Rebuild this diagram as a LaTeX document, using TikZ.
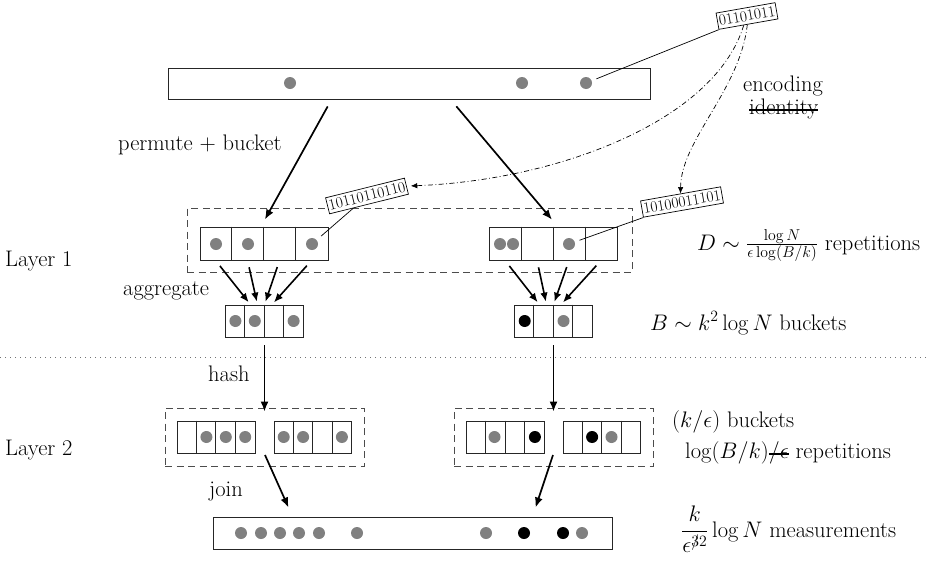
\RequirePackage{fix-cm}
\documentclass[tikz,border=0pt]{standalone}
\usepackage{amsmath}
\usetikzlibrary{arrows.meta,calc}
\newsavebox\strkbox
\newcommand\strk[1]{\sbox\strkbox{#1}\rlap{\usebox\strkbox}\rule[0.15em]{\wd\strkbox}{1.4pt}}
\newcommand\celldivs[3]{\foreach \i in {1,...,#2}{\draw[div] ($(#1.north west)+(\i*#3,0)$) -- ($(#1.south west)+(\i*#3,0)$);}}
\begin{document}
\begin{tikzpicture}[x=1pt,y=-1pt,
  cellbox/.style={draw=black!85,line width=0.9pt,inner sep=0pt},
  dashbox/.style={draw=black!70,line width=0.9pt,dash pattern=on 7pt off 4.5pt,inner sep=0pt},
  gdot/.style={circle,fill=black!50,inner sep=0pt,minimum size=12pt},
  bdot/.style={circle,fill=black,inner sep=0pt,minimum size=12pt},
  lbl/.style={inner sep=0pt,font=\fontsize{22.5}{27}\selectfont},
  code/.style={draw=black,line width=0.7pt,fill=white,inner xsep=1.5pt,inner ysep=3pt,font=\fontsize{15.5}{18}\selectfont},
  arr/.style={-{Latex[length=10pt,width=8pt]},line width=1.7pt},
  arrs/.style={-{Latex[length=9pt,width=7.5pt]},line width=1.6pt},
  dd/.style={-{Latex[length=6.5pt,width=5.5pt]},line width=0.7pt,dash pattern=on 5pt off 2.5pt on 0.8pt off 2.5pt},
  conn/.style={line width=0.7pt},
  div/.style={draw=black!85,line width=0.9pt}]
\path[fill=white] (0,0) rectangle (929,568);
\useasboundingbox (0,0) rectangle (929,568);

% separator
\coordinate (sepL) at (0,357);
\coordinate (sepR) at (929,357);
\draw[black!55,line width=0.8pt,dash pattern=on 0.8pt off 4.2pt] (sepL) -- (sepR);

% top bar
\node[cellbox,minimum width=482pt,minimum height=31pt] (T) at (409,83.5) {};
\node[gdot] (t1) at (290,83) {};
\node[gdot] (t2) at (522,83) {};
\node[gdot] (t3) at (586,83) {};

% layer 1
\node[dashbox,minimum width=445pt,minimum height=64pt] (D1) at (409.5,240) {};
\node[cellbox,minimum width=128pt,minimum height=33pt] (L1a) at (264,243.5) {};
\node[cellbox,minimum width=128pt,minimum height=33pt] (L1b) at (553.5,243.5) {};
\celldivs{L1a}{3}{32}
\celldivs{L1b}{3}{32}
\node[gdot] (a1) at (216,244) {};
\node[gdot] (a2) at (248,244) {};
\node[gdot] (dL1) at (312,244) {};
\node[gdot] (b1) at (500,244) {};
\node[gdot] (b2) at (513,244) {};
\node[gdot] (dR1) at (569,244) {};

% aggregates
\node[cellbox,minimum width=77.6pt,minimum height=32pt] (Ag1) at (264.5,321) {};
\node[cellbox,minimum width=77.6pt,minimum height=32pt] (Ag2) at (553.5,321) {};
\celldivs{Ag1}{3}{19.4}
\celldivs{Ag2}{3}{19.4}
\node[gdot] (g1) at (235.4,321) {};
\node[gdot] (g2) at (254.8,321) {};
\node[gdot] (g3) at (293.6,321) {};
\node[bdot] (h1) at (524.7,321) {};
\node[gdot] (h2) at (563.5,321) {};

% layer 2
\node[dashbox,minimum width=199pt,minimum height=58pt] (G1) at (264.5,437) {};
\node[dashbox,minimum width=199pt,minimum height=58pt] (G2) at (553.5,437) {};
\node[cellbox,minimum width=77.6pt,minimum height=32pt] (BA) at (216.2,437) {};
\node[cellbox,minimum width=77.6pt,minimum height=32pt] (BB) at (313,437) {};
\node[cellbox,minimum width=77.6pt,minimum height=32pt] (BC) at (505.5,437) {};
\node[cellbox,minimum width=77.6pt,minimum height=32pt] (BD) at (602,437) {};
\celldivs{BA}{3}{19.4}
\celldivs{BB}{3}{19.4}
\celldivs{BC}{3}{19.4}
\celldivs{BD}{3}{19.4}
\node[gdot] (p1) at (206.4,437) {};
\node[gdot] (p2) at (225.8,437) {};
\node[gdot] (p3) at (245.2,437) {};
\node[gdot] (q1) at (283.7,437) {};
\node[gdot] (q2) at (303.1,437) {};
\node[gdot] (q3) at (341.9,437) {};
\node[gdot] (r1) at (494.5,437) {};
\node[bdot] (r2) at (534.9,437) {};
\node[bdot] (s1) at (592.1,437) {};
\node[gdot] (s2) at (611.5,437) {};

% bottom bar
\node[cellbox,minimum width=399pt,minimum height=32pt] (Bot) at (412.5,533) {};
\foreach \x [count=\n] in {241,261,280,299,319,357,486,582} \node[gdot] (m\n) at (\x,533) {};
\node[bdot] (mb1) at (524,533) {};
\node[bdot] (mb2) at (563,533) {};

% code labels
\node[code,rotate=10] (A) at (747,16) {01101011};
\node[code,rotate=14] (B) at (367,196) {10110110110};
\node[code,rotate=10] (C) at (682,202) {10100011101};

\draw[conn,shorten <=5pt] (t3) -- (A.south west);
\draw[conn,shorten >=6pt] ($(B.south west)!0.6!(B.south)$) -- (dL1);
\draw[conn,shorten >=5pt] (C.south west) -- (dR1);

\draw[dd,shorten >=4pt] ($(A.south west)!0.42!(A.south east)$) .. controls (715,120) and (560,180) .. (B.east);
\draw[dd] ($(A.south west)!0.48!(A.south east)$) .. controls (740,90) and (681,140) .. (C.north);

% main arrows
\draw[arr,shorten <=8pt,shorten >=8pt] ($(T.south west)+(164,0)$) -- ($(L1a.north)+(-3,0)$);
\draw[arr,shorten <=9pt,shorten >=9pt] ($(T.south west)+(283,0)$) -- ($(L1b.north)+(4.3,0)$);

\foreach \s/\e in {16/-14,48/-7,80/0,112/7.5}{
  \draw[arrs,shorten <=7pt,shorten >=3pt] ($(L1a.south west)+(\s,0)$) -- ($(Ag1.north)+(\e,0)$);
  \draw[arrs,shorten <=7pt,shorten >=3pt] ($(L1b.south west)+(\s,0)$) -- ($(Ag2.north)+(\e,0)$);
}

\draw[arr,shorten <=8pt] (Ag1.south) -- ($(G1.north)+(0,4)$);
\draw[arr,shorten <=8pt] (Ag2.south) -- ($(G2.north)+(0,4)$);

\draw[arr,shorten >=9.9pt] ($(G1.center)+(0.5,18)$) -- ($(Bot.north west)+(80,0)$);
\draw[arr,shorten >=9.5pt] ($(G2.center)+(-0.5,18)$) -- ($(Bot.north west)+(320,0)$);

% texts
\node[lbl,anchor=base west] (lay1) at (5,266) {Layer 1};
\node[lbl,anchor=base west] (lay2) at (5,455) {Layer 2};
\node[lbl,anchor=base west] (perm) at (118,150) {permute + bucket};
\node[lbl,anchor=base west] (agg) at (123,295) {aggregate};
\node[lbl,anchor=base west] (hash) at (208,381) {hash};
\node[lbl,anchor=base west] (join) at (209,496) {join};
\node[lbl,anchor=base west] (enc) at (743,91) {encoding};
\node[lbl,anchor=base west] (ident) at (749,114) {\strk{identity}};
\node[lbl,anchor=base west] (Dr) at (697,250) {$D\sim\frac{\log N}{\epsilon\log(B/k)}$ repetitions};
\node[lbl,anchor=base west] (Bb) at (650,330) {$B\sim k^2\log N$ buckets};
\node[lbl,anchor=base west] (ke) at (672,427) {$(k/\epsilon)$ buckets};
\node[lbl,anchor=base west] (lr) at (685,458) {$\log(B/k)$\strk{$/\epsilon$} repetitions};
\node[lbl,anchor=base west] (meas) at (681,537) {$\dfrac{k}{\epsilon^{\rlap{$\scriptstyle/$}32}}\log N$ measurements};
\end{tikzpicture}
\end{document}
